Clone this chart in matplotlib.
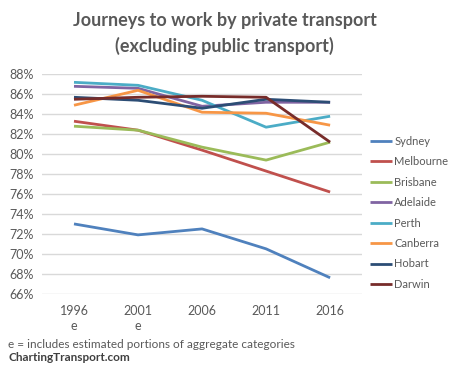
import matplotlib
matplotlib.use("Agg")
import matplotlib.pyplot as plt
from matplotlib.ticker import PercentFormatter

plt.rcParams['font.family'] = ['Lato', 'DejaVu Sans']

# census years (e = includes estimated portions)
years = ["1996\ne", "2001\ne", "2006", "2011", "2016"]

# % journeys to work by private transport
sydney    = [73.0, 71.9, 72.5, 70.5, 67.6]
melbourne = [83.3, 82.4, 80.4, 78.3, 76.2]
brisbane  = [82.8, 82.4, 80.7, 79.4, 81.2]
adelaide  = [86.8, 86.6, 84.8, 85.2, 85.2]
perth     = [87.2, 86.9, 85.4, 82.7, 83.8]
canberra  = [84.9, 86.4, 84.2, 84.1, 82.9]
hobart    = [85.7, 85.4, 84.6, 85.5, 85.2]
darwin    = [85.5, 85.7, 85.8, 85.7, 81.2]

cities = ["Sydney", "Melbourne", "Brisbane", "Adelaide", "Perth", "Canberra", "Hobart", "Darwin"]
series = [sydney, melbourne, brisbane, adelaide, perth, canberra, hobart, darwin]
colors = ["#4F81BD", "#C0504D", "#9BBB59", "#8064A2", "#4BACC6", "#F79646", "#2C4D75", "#772C2A"]

grey = "#595959"

fig = plt.figure(figsize=(4.49, 3.65), dpi=100)
ax = fig.add_axes([0.0935, 0.1953, 0.713, 0.601])

x = range(len(years))
for name, vals, c in zip(cities, series, colors):
    ax.plot(x, vals, color=c, lw=2, label=name, solid_capstyle="butt")

ax.set_xlim(-0.5, len(years) - 0.5)
ax.set_ylim(66, 88)
ax.set_yticks(range(66, 89, 2))
ax.yaxis.set_major_formatter(PercentFormatter(decimals=0))
ax.set_xticks(list(x))
ax.set_xticklabels(years, linespacing=1.35)
ax.grid(axis="y", color="#D9D9D9", lw=1)
ax.set_axisbelow(True)
for s in ax.spines.values():
    s.set_visible(False)
ax.tick_params(length=0, colors=grey, labelsize=9)
ax.tick_params(axis="x", pad=8)
ax.tick_params(axis="y", pad=6)

fig.text(0.5, 0.966, "Journeys to work by private transport\n(excluding public transport)",
         ha="center", va="top", fontsize=13, fontweight="bold", color=grey, linespacing=1.5)

fig.legend(loc="center left", bbox_to_anchor=(0.824, 0.417), frameon=False,
           fontsize=8, labelcolor=grey, handlelength=2.0, handletextpad=0.2,
           borderpad=0, borderaxespad=0, labelspacing=0.85)

fig.text(0.018, 0.055, "e = includes estimated portions of aggregate categories",
         fontsize=8.5, color=grey, va="center")
fig.text(0.018, 0.02, "ChartingTransport.com", fontsize=8.5, fontweight="bold",
         color="#404040", va="center")

fig.savefig("out.png", dpi=100)
